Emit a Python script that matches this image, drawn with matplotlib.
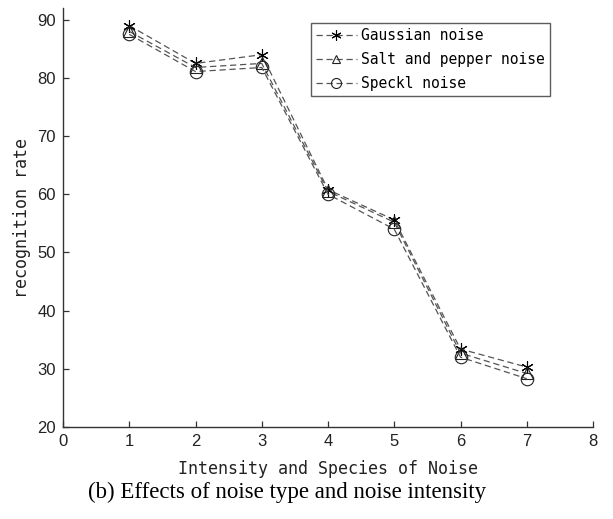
import matplotlib
matplotlib.use("Agg")
import matplotlib.pyplot as plt

x = [1, 2, 3, 4, 5, 6, 7]
gaussian = [89.0, 82.5, 84.0, 60.8, 55.6, 33.4, 30.3]
salt_pepper = [88.0, 81.8, 82.5, 60.5, 55.2, 32.7, 29.2]
speckl = [87.5, 81.1, 81.8, 60.0, 54.0, 32.0, 28.3]

x_ticks = [0, 1, 2, 3, 4, 5, 6, 7, 8]
y_ticks = [20, 30, 40, 50, 60, 70, 80, 90]

MONO = "DejaVu Sans Mono"
LINE_COLOR = "#555555"
ASTERISK = (6, 2, 0)

fig = plt.figure(figsize=(6.13, 5.19), dpi=100)
ax = fig.add_axes([0.1028, 0.1773, 0.8646, 0.807])

common = dict(color=LINE_COLOR, linestyle=(0, (5, 3)), linewidth=0.9,
              markerfacecolor="none", markeredgewidth=0.8)
ax.plot(x, gaussian, marker=ASTERISK, markersize=9, markeredgecolor="black",
        label="Gaussian noise", **common)
ax.plot(x, salt_pepper, marker="^", markersize=8, markeredgecolor="#222222",
        label="Salt and pepper noise", **common)
ax.plot(x, speckl, marker="o", markersize=9, markeredgecolor="#222222",
        label="Speckl noise", **common)

ax.set_xlim(0, 8)
ax.set_ylim(20, 92)
ax.set_xticks(x_ticks)
ax.set_yticks(y_ticks)
ax.spines["top"].set_visible(False)
ax.spines["right"].set_visible(False)
for side in ("left", "bottom"):
    ax.spines[side].set_color("#333333")
    ax.spines[side].set_linewidth(1.0)
ax.tick_params(direction="in", length=4, width=0.9, colors="#333333",
               labelsize=12, labelcolor="#222222", pad=5)
for lab in ax.get_xticklabels() + ax.get_yticklabels():
    lab.set_family("Liberation Sans")

ax.set_xlabel("Intensity and Species of Noise", family=MONO, fontsize=12,
              color="#222222", labelpad=8)
ax.set_ylabel("recognition rate", family=MONO, fontsize=12,
              color="#222222", labelpad=5)

leg = ax.legend(loc="upper right", bbox_to_anchor=(0.919, 0.964),
                prop={"family": MONO, "size": 10.5}, frameon=True,
                fancybox=False, edgecolor="#333333", handlelength=2.8,
                handletextpad=0.3, borderpad=0.35, labelspacing=0.6,
                borderaxespad=0.0, markerscale=0.8)
leg.get_frame().set_linewidth(1.0)

fig.text(0.468, 0.052, "(b) Effects of noise type and noise intensity",
         family="Liberation Serif", fontsize=16.5, ha="center", va="center",
         color="black")

fig.savefig("out.png", dpi=100)
